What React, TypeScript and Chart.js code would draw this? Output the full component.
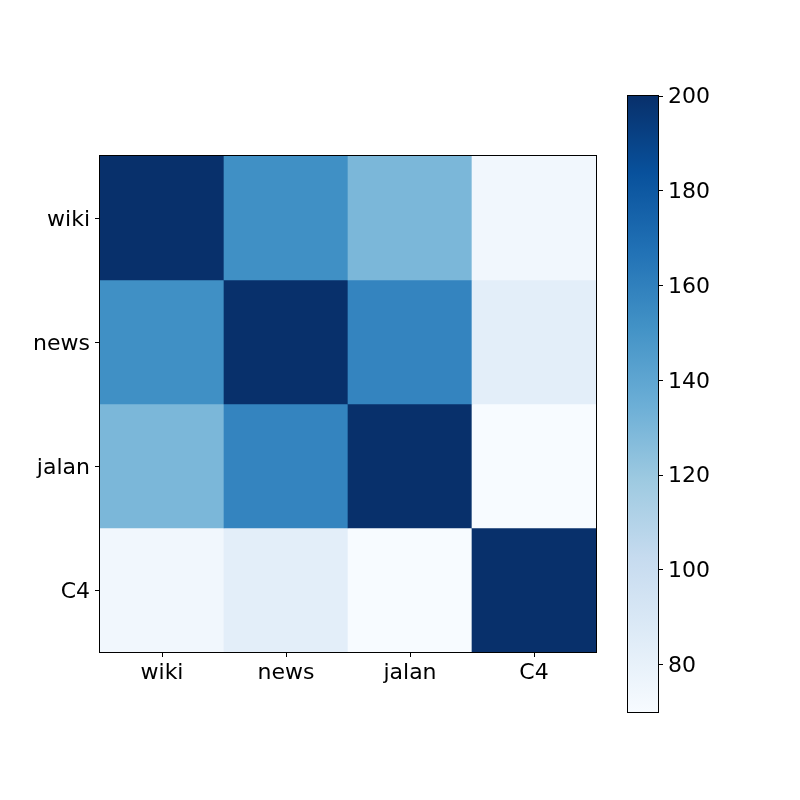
import React, { useEffect, useRef } from "react";
import { Chart, registerables } from "chart.js";

Chart.register(...registerables);

// ---- data ----
const categories = ["wiki", "news", "jalan", "C4"];
const rowWiki = [200, 152, 130, 74];
const rowNews = [152, 200, 158, 83];
const rowJalan = [130, 158, 200, 70];
const rowC4 = [74, 83, 70, 200];
const matrix = [rowWiki, rowNews, rowJalan, rowC4];
const vMin = 70;
const vMax = 200;
const colorbarTicks = [80, 100, 120, 140, 160, 180, 200];

// ---- matplotlib "Blues" colormap ----
const BLUES = [
  "#f7fbff", "#deebf7", "#c6dbef", "#9ecae1", "#6baed6",
  "#4292c6", "#2171b5", "#08519c", "#08306b",
];
function hexToRgb(h: string): number[] {
  const n = parseInt(h.slice(1), 16);
  return [(n >> 16) & 255, (n >> 8) & 255, n & 255];
}
function blues(v: number): string {
  let t = (v - vMin) / (vMax - vMin);
  t = Math.max(0, Math.min(1, t));
  const p = t * (BLUES.length - 1);
  const i = Math.min(Math.floor(p), BLUES.length - 2);
  const f = p - i;
  const a = hexToRgb(BLUES[i]);
  const b = hexToRgb(BLUES[i + 1]);
  const c = a.map((x, k) => Math.round(x + (b[k] - x) * f));
  return `rgb(${c[0]},${c[1]},${c[2]})`;
}

const FONT = { family: "'DejaVu Sans', sans-serif", size: 22 };

const framePlugin = {
  id: "frame",
  afterDatasetsDraw(chart: any) {
    const { ctx, chartArea: a } = chart;
    ctx.save();
    ctx.strokeStyle = "#000";
    ctx.lineWidth = 1;
    ctx.strokeRect(
      Math.round(a.left) - 0.5,
      Math.round(a.top) - 0.5,
      Math.round(a.right - a.left) + 1,
      Math.round(a.bottom - a.top) + 1
    );
    ctx.restore();
  },
};

export default function App() {
  const heatRef = useRef<HTMLCanvasElement>(null);
  const barRef = useRef<HTMLCanvasElement>(null);

  useEffect(() => {
    const heat = new Chart(heatRef.current!, {
      type: "bar",
      data: {
        labels: categories,
        datasets: matrix.map((row, r) => ({
          label: categories[r],
          data: row.map(() => [r - 0.5, r + 0.5]),
          backgroundColor: row.map((v) => blues(v)),
          borderWidth: 0,
          barPercentage: 1,
          categoryPercentage: 1,
          grouped: false,
        })),
      } as any,
      options: {
        responsive: false,
        animation: false,
        layout: { padding: { left: 0, top: 156, right: 204, bottom: 0 } },
        plugins: { legend: { display: false }, tooltip: { enabled: false } },
        scales: {
          x: {
            type: "category",
            offset: true,
            border: { display: false },
            grid: {
              offset: false,
              drawOnChartArea: false,
              drawTicks: true,
              tickLength: 5,
              tickColor: "#000",
              tickWidth: 1,
            },
            ticks: { color: "#000", font: FONT, padding: 3, maxRotation: 0 },
            afterFit: (s: any) => {
              s.height = 148;
            },
          },
          y: {
            type: "linear",
            min: -0.5,
            max: 3.5,
            reverse: true,
            border: { display: false },
            grid: {
              drawOnChartArea: false,
              drawTicks: true,
              tickLength: 5,
              tickColor: "#000",
              tickWidth: 1,
            },
            afterBuildTicks: (s: any) => {
              s.ticks = categories.map((_, i) => ({ value: i }));
            },
            ticks: {
              color: "#000",
              font: FONT,
              padding: 5,
              labelOffset: 2,
              callback: (v: any) => categories[v as number],
            },
            afterFit: (s: any) => {
              s.width = 100;
            },
          },
        },
      } as any,
      plugins: [framePlugin],
    });

    const bar = new Chart(barRef.current!, {
      type: "bar",
      data: {
        labels: [""],
        datasets: [
          {
            data: [[vMin, vMax]],
            backgroundColor: (ctx: any) => {
              const chart = ctx.chart;
              if (!chart.chartArea || !chart.scales.y) return BLUES[4];
              const y = chart.scales.y;
              const g = chart.ctx.createLinearGradient(
                0, y.getPixelForValue(vMin), 0, y.getPixelForValue(vMax)
              );
              BLUES.forEach((c, i) => g.addColorStop(i / (BLUES.length - 1), c));
              return g;
            },
            borderWidth: 0,
            barPercentage: 1,
            categoryPercentage: 1,
          },
        ],
      } as any,
      options: {
        responsive: false,
        animation: false,
        layout: { padding: { left: 628, top: 96, right: 0, bottom: 88 } },
        plugins: { legend: { display: false }, tooltip: { enabled: false } },
        scales: {
          x: { display: false },
          y: {
            type: "linear",
            position: "right",
            min: vMin,
            max: vMax,
            border: { display: false },
            grid: {
              drawOnChartArea: false,
              drawTicks: true,
              tickLength: 5,
              tickColor: "#000",
              tickWidth: 1,
            },
            afterBuildTicks: (s: any) => {
              s.ticks = colorbarTicks.map((v) => ({ value: v }));
            },
            ticks: { color: "#000", font: FONT, padding: 5, labelOffset: 1.5 },
            afterFit: (s: any) => {
              s.width = 142;
            },
          },
        },
      } as any,
      plugins: [framePlugin],
    });

    return () => {
      heat.destroy();
      bar.destroy();
    };
  }, []);

  return (
    <div
      style={{
        position: "fixed",
        left: 0,
        top: 0,
        width: 800,
        height: 800,
        background: "#fff",
      }}
    >
      <canvas
        ref={heatRef}
        width={800}
        height={800}
        style={{ position: "absolute", left: 0, top: 0 }}
      />
      <canvas
        ref={barRef}
        width={800}
        height={800}
        style={{ position: "absolute", left: 0, top: 0 }}
      />
    </div>
  );
}
